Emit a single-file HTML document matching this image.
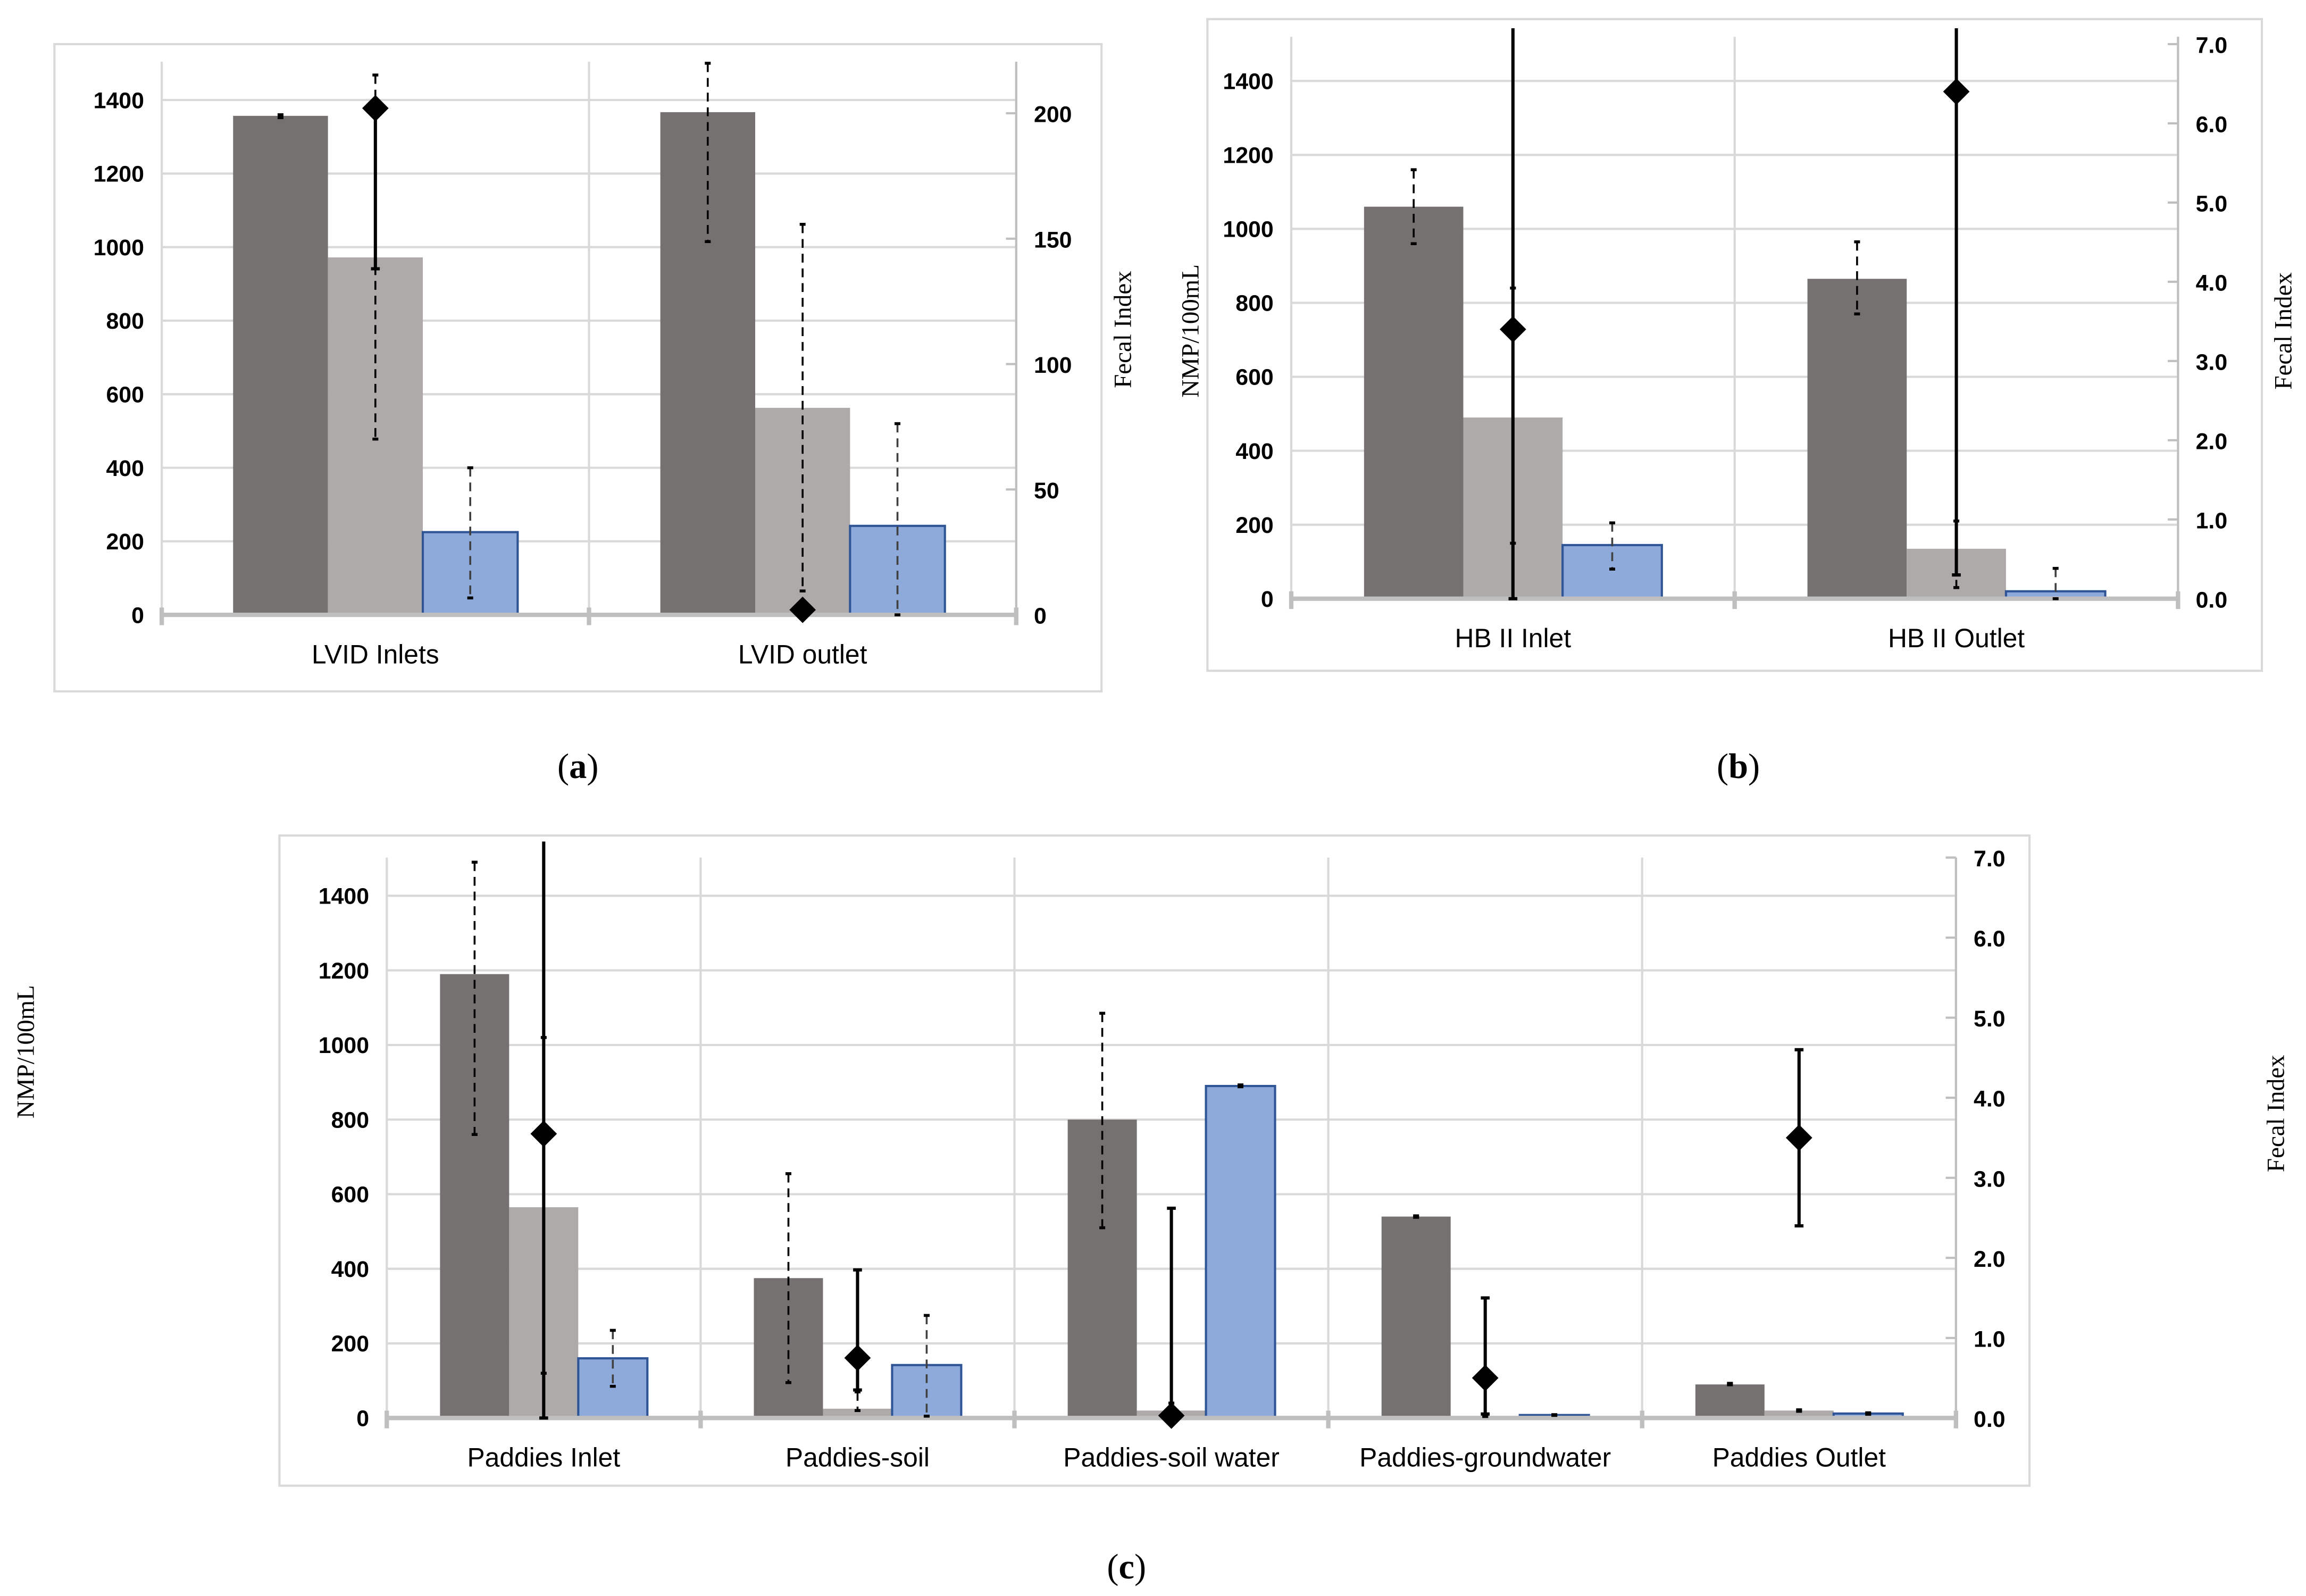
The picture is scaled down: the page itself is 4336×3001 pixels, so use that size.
<!DOCTYPE html>
<html><head><meta charset="utf-8"><style>
html,body{margin:0;padding:0;background:#fff;}
svg{display:block;}
.tk{font-family:"Liberation Sans",sans-serif;font-weight:bold;font-size:15.5px;fill:#000;}
.cat{font-family:"Liberation Sans",sans-serif;font-size:18px;fill:#000;}
.ttl{font-family:"Liberation Serif",serif;font-size:17px;fill:#000;}
.lab{font-family:"Liberation Serif",serif;font-size:24px;fill:#000;}
</style></head><body>
<svg id="fig" width="4336" height="3001" viewBox="0 0 1568 1085" preserveAspectRatio="none" xmlns="http://www.w3.org/2000/svg">
<text class="lab" x="393" y="529" text-anchor="middle">(<tspan font-weight="bold">a</tspan>)</text>
<text class="lab" x="1182" y="529" text-anchor="middle">(<tspan font-weight="bold">b</tspan>)</text>
<text class="lab" x="766" y="1073" text-anchor="middle">(<tspan font-weight="bold">c</tspan>)</text>
</svg>
<script>
// ---- Panel A data ----
const catsA = ["LVID Inlets", "LVID outlet"];
const darkA = [1357, 1367];
const darkErrA = [[1352, 1360], [1015, 1500]];
const lightA = [972, 563];
const lightErrA = [[478, 1468], [65, 1062]];
const blueA = [225, 242];
const blueErrA = [[46, 400], [0, 520]];
const fecalA = [202, 2];
const fecalErrA = [[138, 202], [2, 2]];
const leftTicksA = [0, 200, 400, 600, 800, 1000, 1200, 1400];
const rightTicksA = [0, 50, 100, 150, 200];
// ---- Panel B data ----
const catsB = ["HB II Inlet", "HB II Outlet"];
const darkB = [1060, 865];
const darkErrB = [[960, 1160], [770, 965]];
const lightB = [490, 135];
const lightErrB = [[150, 840], [30, 210]];
const blueB = [145, 20];
const blueErrB = [[80, 205], [0, 82]];
const fecalB = [3.4, 6.4];
const fecalErrB = [[0, 7.2], [0.3, 7.2]];
const leftTicksB = [0, 200, 400, 600, 800, 1000, 1200, 1400];
const rightTicksB = [0, 1, 2, 3, 4, 5, 6, 7];
// ---- Panel C data ----
const catsC = ["Paddies Inlet", "Paddies-soil", "Paddies-soil water", "Paddies-groundwater", "Paddies Outlet"];
const darkC = [1190, 375, 800, 540, 90];
const darkErrC = [[760, 1490], [95, 655], [510, 1085], [538, 542], [89, 93]];
const lightC = [565, 25, 20, 5, 20];
const lightErrC = [[120, 1020], [20, 70], [0, 40], [4, 6], [18, 22]];
const blueC = [160, 142, 890, 8, 12];
const blueErrC = [[85, 235], [5, 275], [888, 893], [7, 9], [10, 14]];
const fecalC = [3.55, 0.75, 0.03, 0.5, 3.5];
const fecalErrC = [[0, 7.2], [0.35, 1.85], [0.03, 2.62], [0.05, 1.5], [2.4, 4.6]];
const leftTicksC = [0, 200, 400, 600, 800, 1000, 1200, 1400];
const rightTicksC = [0, 1, 2, 3, 4, 5, 6, 7];

const NS = "http://www.w3.org/2000/svg";
const svg = document.getElementById('fig');
function mk(tag, attrs, parent) {
  const e = document.createElementNS(NS, tag);
  for (const k in attrs) e.setAttribute(k, attrs[k]);
  (parent || svg).appendChild(e);
  return e;
}

function panel(cfg) {
  const g = mk('g', {});
  
  
  const fr = mk('rect', {x: cfg.fx, y: cfg.fy, width: cfg.fw, height: cfg.fh, fill: '#fff', stroke: '#d9d9d9', 'stroke-width': 1.5}, g);
  
  
  const L = cfg.left, R = cfg.right, Z = cfg.zero;
  const yL = v => Z - v * cfg.ls;
  const yR = v => Z - v * cfg.rs;
  const n = cfg.cats.length;
  const cw = (R - L) / n;
  const cx = i => L + cw * (i + 0.5);
  const clipTop = cfg.top;
  // gridlines
  cfg.lt.forEach(t => {
    if (t === 0) return;
    const l = mk('line', {x1: L, x2: R, y1: yL(t), y2: yL(t), stroke: '#d9d9d9', 'stroke-width': 1.5}, g);
    
    
  });
  for (let i = 0; i <= n; i++) {
    const x = L + cw * i;
    const l = mk('line', {x1: x, x2: x, y1: clipTop, y2: Z, stroke: '#d9d9d9', 'stroke-width': 1.5}, g);
    
    
  }
  // left labels
  cfg.lt.forEach(t => {
    const tx = mk('text', {x: L - 12, y: yL(t) + 5.5, 'text-anchor': 'end', class: 'tk'}, g);
    tx.textContent = t;
    
    
  });
  // right axis
  const ra = mk('line', {x1: R, x2: R, y1: clipTop, y2: Z + 6, stroke: '#bfbfbf', 'stroke-width': 1.5}, g);
  
  
  cfg.rt.forEach(t => {
    const tl = mk('line', {x1: R - 7, x2: R, y1: yR(t), y2: yR(t), stroke: '#bfbfbf', 'stroke-width': 1.5}, g);
    
    
    const tx = mk('text', {x: R + 12, y: yR(t) + 6, class: 'tk', 'font-size': 17.5}, g);
    tx.textContent = cfg.rfix ? t.toFixed(1) : t;
    
    
  });
  // bars
  const bw = cfg.bw;
  const series = [
    {v: cfg.dark, e: cfg.darkErr, fill: '#767171', stroke: 'none', off: -1, nm: 'dark-bar'},
    {v: cfg.light, e: cfg.lightErr, fill: '#aeaaaa', stroke: 'none', off: 0, nm: 'light-bar'},
    {v: cfg.blue, e: cfg.blueErr, fill: '#8eaadb', stroke: '#2f5597', off: 1, nm: 'blue-bar'}
  ];
  series.forEach(s => {
    s.v.forEach((v, i) => {
      const x = cx(i) + s.off * bw - bw / 2;
      const r = mk('rect', {x: x, y: yL(v), width: bw, height: Z - yL(v), fill: s.fill, stroke: s.stroke, 'stroke-width': s.stroke === 'none' ? 0 : 1.5}, g);
      
      
    });
  });
  // axis at zero
  const ax = mk('line', {x1: L, x2: R, y1: Z, y2: Z, stroke: '#bfbfbf', 'stroke-width': 3}, g);
  
  
  for (let i = 0; i <= n; i++) {
    const x = L + cw * i;
    const tk = mk('line', {x1: x, x2: x, y1: Z - 5, y2: Z + 7, stroke: '#bfbfbf', 'stroke-width': 3}, g);
    
    
  }
  // bar error bars (dashed)
  series.forEach(s => {
    s.e.forEach((e, i) => {
      const x = cx(i) + s.off * bw;
      const y1 = Math.max(yL(e[1]), clipTop), y2 = yL(e[0]);
      const l = mk('line', {x1: x, x2: x, y1: y1, y2: y2, stroke: s.off === 1 ? '#404040' : '#000', 'stroke-width': 1.3, 'stroke-dasharray': '6,4'}, g);
      
      
      [e[0], e[1]].forEach(ev => {
        const yy = yL(ev);
        if (yy < clipTop) return;
        const c = mk('line', {x1: x - 2, x2: x + 2, y1: yy, y2: yy, stroke: '#000', 'stroke-width': 2}, g);
        
        
      });
    });
  });
  // fecal index
  cfg.fecal.forEach((v, i) => {
    const x = cx(i);
    const e = cfg.fecalErr[i];
    const y1 = Math.max(yR(e[1]), clipTop - 12), y2 = yR(e[0]);
    const l = mk('line', {x1: x, x2: x, y1: y1, y2: y2, stroke: '#000', 'stroke-width': 2.2}, g);
    
    
    [e[0], e[1]].forEach(ev => {
      const yy = yR(ev);
      if (yy < clipTop) return;
      const c = mk('line', {x1: x - 3, x2: x + 3, y1: yy, y2: yy, stroke: '#000', 'stroke-width': 2.2}, g);
      
      
    });
    const y = yR(v), d = 9;
    const p = mk('polygon', {points: `${x},${y - d} ${x + d},${y} ${x},${y + d} ${x - d},${y}`, fill: '#000'}, g);
    
    
  });
  // category labels
  cfg.cats.forEach((c, i) => {
    const t = mk('text', {x: cx(i), y: Z + 33, 'text-anchor': 'middle', class: 'cat'}, g);
    t.textContent = c;
    
    
  });
  if (cfg.lx) {
    const t = mk('text', {transform: `translate(${cfg.lx},${cfg.ly}) rotate(-90)`, 'text-anchor': 'middle', class: 'ttl'}, g);
    t.textContent = 'NMP/100mL';
    
    
  }
  const t2 = mk('text', {transform: `translate(${cfg.rx},${cfg.ry}) rotate(-90)`, 'text-anchor': 'middle', class: 'ttl'}, g);
  t2.textContent = 'Fecal Index';
  
  
}

panel({name: 'chart-a', fx: 37, fy: 30, fw: 712, fh: 440, left: 110, right: 691, zero: 418, top: 42,
  ls: 0.25, rs: 1.705, bw: 64.5, rfix: false, cats: catsA, dark: darkA, darkErr: darkErrA, light: lightA, lightErr: lightErrA,
  blue: blueA, blueErr: blueErrA, fecal: fecalA, fecalErr: fecalErrA, lt: leftTicksA, rt: rightTicksA,
  rx: 769, ry: 224});
panel({name: 'chart-b', fx: 821, fy: 13, fw: 717, fh: 443, left: 878, right: 1481, zero: 407, top: 25,
  ls: 0.2514, rs: 53.86, bw: 67.5, rfix: true, cats: catsB, dark: darkB, darkErr: darkErrB, light: lightB, lightErr: lightErrB,
  blue: blueB, blueErr: blueErrB, fecal: fecalB, fecalErr: fecalErrB, lt: leftTicksB, rt: rightTicksB,
  lx: 815, ly: 225, rx: 1558, ry: 225});
panel({name: 'chart-c', fx: 190, fy: 568, fw: 1190, fh: 442, left: 263, right: 1330, zero: 964, top: 583,
  ls: 0.2536, rs: 54.43, bw: 47, rfix: true, cats: catsC, dark: darkC, darkErr: darkErrC, light: lightC, lightErr: lightErrC,
  blue: blueC, blueErr: blueErrC, fecal: fecalC, fecalErr: fecalErrC, lt: leftTicksC, rt: rightTicksC,
  lx: 23, ly: 715, rx: 1553, ry: 757});
</script>
</body></html>
